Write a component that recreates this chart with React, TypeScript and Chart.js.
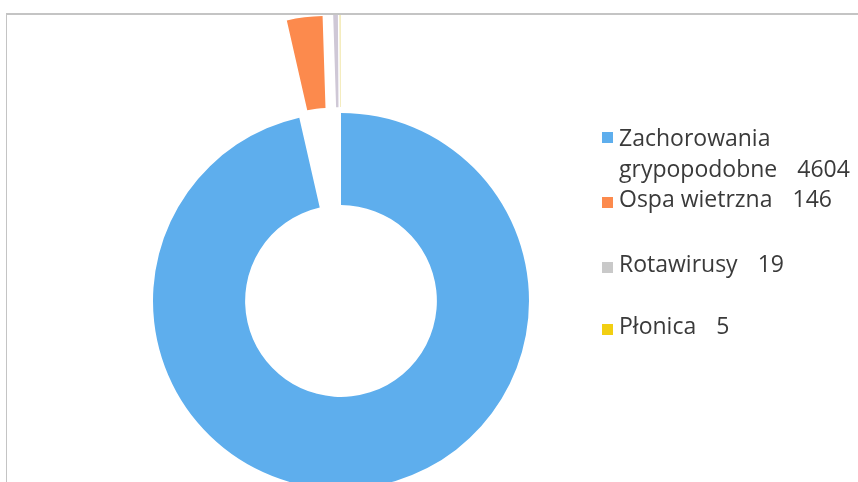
import React, { useEffect, useRef } from "react";
import { Chart, registerables } from "chart.js";

Chart.register(...registerables);

const categories = ["Zachorowania grypopodobne", "Ospa wietrzna", "Rotawirusy", "Płonica"];
const legendNameLines = [["Zachorowania", "grypopodobne"], ["Ospa wietrzna"], ["Rotawirusy"], ["Płonica"]];
const values = [4604, 146, 19, 5];
const sliceColors = ["#5eaeed", "#fc8a4d", "#cfc8d6", "#efe3a0"];
const legendColors = ["#5eaeed", "#fc8a4d", "#c9c9c9", "#f2cf12"];
// how far each slice is pulled out of the ring, px
const explodeDistances = [0, 98, 98, 98];

// legend layout (baselines of lines, square tops)
const legendBaselines = [[146, 177], [207], [272], [334]];
const squareTops = [132, 197, 262, 324];

const FONT = "'Open Sans', 'Noto Sans', sans-serif";

const explodePlugin = {
  id: "explodeSlices",
  beforeDatasetDraw(chart: any, args: any) {
    const ctx = chart.ctx;
    const meta = args.meta;
    meta.data.forEach((arc: any, i: number) => {
      const d = explodeDistances[i] || 0;
      const { startAngle, endAngle } = arc.getProps(["startAngle", "endAngle"], true);
      const mid = (startAngle + endAngle) / 2;
      ctx.save();
      ctx.translate(Math.cos(mid) * d, Math.sin(mid) * d);
      arc.draw(ctx, chart.chartArea);
      ctx.restore();
    });
    return false;
  },
};

export default function App() {
  const canvasRef = useRef<HTMLCanvasElement | null>(null);

  useEffect(() => {
    document.body.style.margin = "0";
    const canvas = canvasRef.current;
    if (!canvas) return;
    const chart = new Chart(canvas, {
      type: "doughnut",
      data: {
        labels: categories,
        datasets: [
          {
            data: values,
            backgroundColor: sliceColors,
            borderWidth: 0,
          } as any,
        ],
      },
      options: {
        responsive: false,
        animation: false,
        radius: 188,
        cutout: "51%",
        layout: { padding: { left: 0, right: 176, top: 120, bottom: 0 } },
        plugins: {
          legend: { display: false },
          tooltip: { enabled: false },
        },
      } as any,
      plugins: [explodePlugin],
    });
    return () => chart.destroy();
  }, []);

  return (
    <div style={{ position: "fixed", left: 0, top: 0, width: 858, height: 482, overflow: "hidden", background: "#fff" }}>
      <div
        style={{
          position: "absolute",
          left: 6,
          top: 13,
          right: 0,
          bottom: 0,
          borderTop: "2px solid #c4c4c4",
          borderLeft: "1px solid #c4c4c4",
        }}
      />
      <canvas ref={canvasRef} width={858} height={482} style={{ position: "absolute", left: 0, top: 0, width: 858, height: 482 }} />
      {categories.map((c, i) => (
        <React.Fragment key={c}>
          <div
            style={{
              position: "absolute",
              left: 602,
              top: squareTops[i],
              width: 11,
              height: 11,
              background: legendColors[i],
            }}
          />
          {legendNameLines[i].map((line, j) => {
            const last = j === legendNameLines[i].length - 1;
            return (
              <div
                key={j}
                style={{
                  position: "absolute",
                  left: 619,
                  top: legendBaselines[i][j] - 24,
                  lineHeight: "30px",
                  fontSize: 23,
                  fontFamily: FONT,
                  color: "#3a3a3a",
                  whiteSpace: "nowrap",
                }}
              >
                <span>{line}</span>
                {last && <span style={{ marginLeft: 20 }}>{values[i]}</span>}
              </div>
            );
          })}
        </React.Fragment>
      ))}
    </div>
  );
}
